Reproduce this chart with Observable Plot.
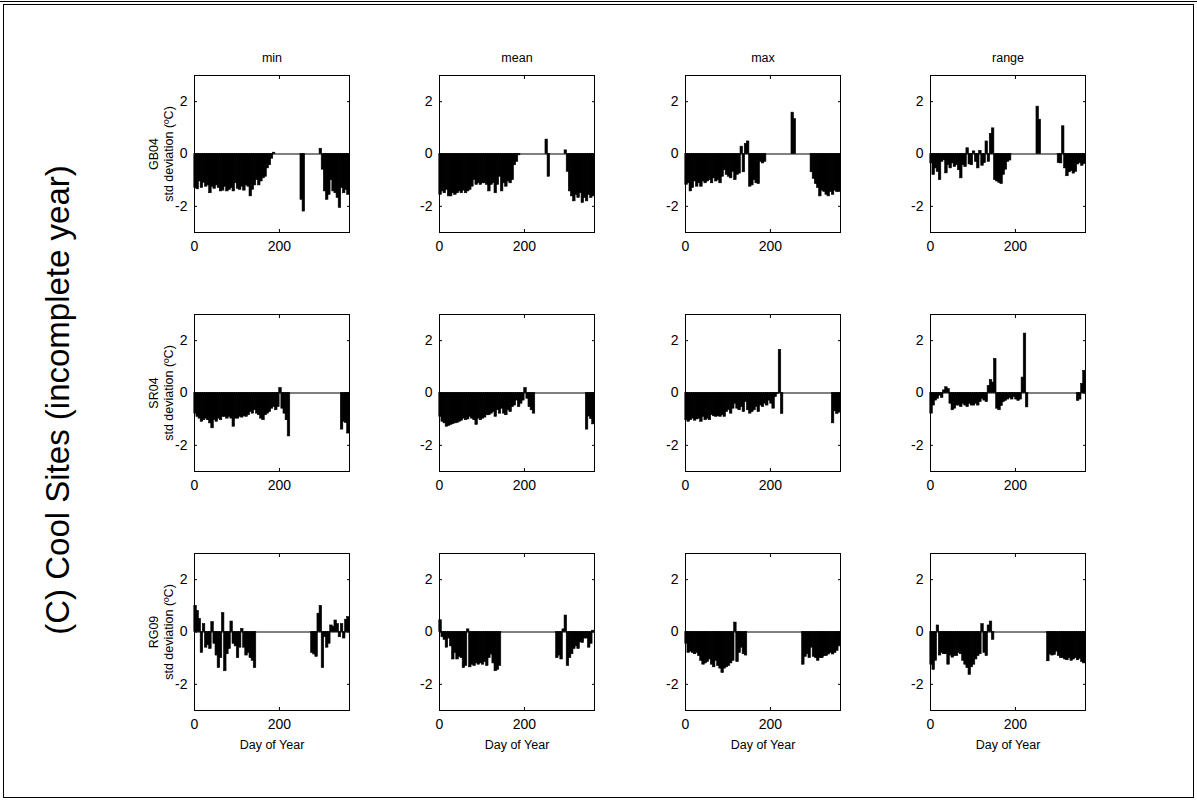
<!DOCTYPE html>
<html>
<head>
<meta charset="utf-8">
<script src="https://cdn.jsdelivr.net/npm/d3@7"></script>
<script src="https://cdn.jsdelivr.net/npm/@observablehq/plot@0.6"></script>
<style>
  body { margin: 0; background: #fff; }
  #fig { position: relative; width: 1197px; height: 800px; overflow: hidden; background: #fff;
         font-family: "Liberation Sans", Arial, Helvetica, sans-serif; color: #000; }
  .edge { position: absolute; background: #000; }
  #side { position: absolute; left: 58px; top: 400px; transform: translate(-50%, -50%) rotate(-90deg);
          white-space: nowrap; font-size: 33px; }
</style>
</head>
<body>
<div id="fig">
  <div class="edge" style="left:0;top:1px;width:1197px;height:1px"></div>
  <div class="edge" style="left:3px;top:4px;width:1191px;height:1px"></div>
  <div class="edge" style="left:3px;top:4px;width:1px;height:794px"></div>
  <div class="edge" style="left:1193px;top:4px;width:1px;height:794px"></div>
  <div class="edge" style="left:3px;top:797px;width:1191px;height:1px"></div>
  <div id="side">(C) Cool Sites (incomplete year)</div>
</div>
<script>
// Daily standardized anomalies, averaged into 5-day bins (bin i covers days 5i..5i+5).
// null = no record for that bin.
const dayStep = 5;
const dayMax = 365;
const sites = ["GB04", "SR04", "RG09"];
const statNames = ["min", "mean", "max", "range"];
const xTicks = [0, 200];
const yTicks = [-2, 0, 2];

const gb04Min = [
  -1.30, -1.35, -1.05, -1.30, -1.10, -1.25, -1.20, -1.50, -1.25, -1.33,
  -1.20, -1.30, -1.43, -1.40, -1.25, -1.43, -1.37, -1.30, -1.43, -1.12,
  -1.33, -1.37, -1.25, -1.40, -1.20, -1.25, -1.62, -1.37, -1.20, -1.00,
  -1.20, -1.05, -0.93, -0.87, -0.55, -0.43, -0.18, 0.05, null, null,
  null, null, null, null, null, null, null, null, null, null,
  -1.75, -2.20, null, null, null, null, null, null, null, 0.20,
  -0.60, -1.43, -1.75, -1.56, -1.00, -1.43, -1.50, -1.68, -2.06, -1.30,
  -1.50, -1.37, -1.56
];
const gb04Mean = [
  -1.56, -1.43, -1.50, -1.37, -1.62, -1.62, -1.50, -1.56, -1.50, -1.43,
  -1.50, -1.40, -1.50, -1.43, -1.37, -1.25, -1.00, -1.18, -1.12, -1.18,
  -1.12, -1.12, -1.18, -1.43, -1.18, -1.12, -1.50, -1.18, -0.87, -1.43,
  -1.12, -1.25, -1.05, -1.12, -1.00, -0.43, -0.30, -0.05, null, null,
  null, null, null, null, null, null, null, null, null, null,
  0.55, -0.87, null, null, null, null, null, null, null, 0.14,
  -0.68, -1.43, -1.62, -1.81, -1.56, -1.68, -1.50, -1.87, -1.68, -1.81,
  -1.56, -1.68, -1.62
];
const gb04Max = [
  -1.18, -1.12, -1.43, -1.30, -1.05, -1.25, -1.12, -1.25, -1.05, -1.12,
  -1.05, -1.00, -1.12, -0.93, -1.05, -1.00, -1.12, -0.87, -0.62, -0.80,
  -0.87, -0.93, -0.68, -1.00, -0.80, -0.75, 0.28, -0.70, 0.39, 0.48,
  -1.25, -1.20, -1.00, -1.12, -1.15, -0.30, -0.36, -0.30, null, null,
  null, null, null, null, null, null, null, null, null, null,
  1.58, 1.33, null, null, null, null, null, null, null, -0.70,
  -0.95, -1.15, -1.30, -1.62, -1.40, -1.45, -1.56, -1.62, -1.45, -1.56,
  -1.40, -1.45, -1.45
];
const gb04Range = [
  -0.36, -0.80, -0.55, -0.68, -1.00, -0.30, -0.24, -0.74, -0.43, -0.55,
  -0.36, -0.50, -0.43, -0.62, -0.93, -0.43, -0.50, 0.22, -0.40, -0.43,
  0.10, -0.30, -0.55, 0.12, -0.45, -0.35, 0.48, -0.30, 0.77, 0.98,
  -1.00, -1.05, -1.10, -1.15, -0.80, -0.60, -0.30, -0.25, null, null,
  null, null, null, null, null, null, null, null, null, null,
  1.81, 1.31, null, null, null, null, null, null, null, null,
  -0.35, -0.36, 1.06, -0.55, -0.85, -0.70, -0.65, -0.75, -0.68, -0.40,
  -0.35, -0.45, -0.38
];

const sr04Min = [
  -0.79, -0.91, -0.98, -1.10, -1.04, -0.98, -1.04, -1.16, -1.35, -1.04,
  -1.10, -0.98, -1.04, -0.91, -0.91, -0.98, -0.91, -0.98, -1.29, -0.98,
  -0.98, -0.91, -0.94, -0.89, -0.91, -0.85, -0.73, -0.79, -0.66, -0.79,
  -0.85, -0.98, -1.04, -0.85, -0.79, -0.73, -0.60, -0.54, -0.66, -0.54,
  0.19, -0.60, -0.79, -1.04, -1.66, null, null, null, null, null,
  null, null, null, null, null, null, null, null, null, null,
  null, null, null, null, null, null, null, null, null, -1.40,
  -1.10, -1.15, -1.55
];
const sr04Mean = [
  -0.91, -1.10, -1.16, -1.29, -1.26, -1.22, -1.19, -1.16, -1.14, -1.10,
  -1.06, -0.98, -1.04, -1.01, -0.91, -0.98, -1.04, -1.22, -0.98, -1.04,
  -0.98, -0.94, -0.85, -0.85, -0.79, -0.73, -0.91, -0.66, -0.79, -0.60,
  -0.79, -0.85, -0.66, -0.73, -0.54, -0.48, -0.29, -0.54, -0.41, -0.29,
  0.19, -0.22, -0.54, -0.66, -0.79, null, null, null, null, null,
  null, null, null, null, null, null, null, null, null, null,
  null, null, null, null, null, null, null, null, null, -1.40,
  -0.90, -1.00, -1.20
];
const sr04Max = [
  -1.04, -1.10, -1.04, -0.98, -1.06, -1.01, -0.98, -1.10, -0.91, -1.04,
  -0.98, -1.04, -0.85, -0.89, -0.91, -0.89, -0.91, -0.85, -0.91, -0.73,
  -0.66, -0.79, -0.60, -0.41, -0.60, -0.66, -0.54, -0.73, -0.35, -0.66,
  -0.79, -0.73, -0.66, -0.54, -0.73, -0.48, -0.54, -0.41, -0.48, -0.29,
  -0.41, -0.60, -0.16, -0.04, 1.65, -0.80, null, null, null, null,
  null, null, null, null, null, null, null, null, null, null,
  null, null, null, null, null, null, null, null, null, -1.16,
  -0.70, -0.80, -0.75
];
const sr04Range = [
  -0.79, -0.48, -0.29, -0.22, -0.10, -0.19, 0.10, 0.22, 0.15, -0.41,
  -0.66, -0.60, -0.48, -0.48, -0.54, -0.41, -0.48, -0.54, -0.41, -0.48,
  -0.48, -0.41, -0.48, -0.35, -0.22, -0.29, -0.35, 0.27, 0.49, 0.40,
  1.30, -0.60, -0.66, -0.50, -0.35, -0.30, -0.25, -0.20, -0.25, -0.15,
  -0.25, -0.30, -0.25, 0.59, 2.27, -0.55, null, null, null, null,
  null, null, null, null, null, null, null, null, null, null,
  null, null, null, null, null, null, null, null, null, -0.30,
  -0.25, 0.35, 0.85
];

const rg09Min = [
  1.00, 0.80, 0.50, -0.80, 0.30, -0.60, -0.50, -0.65, 0.38, -0.45,
  -0.90, -1.38, -1.00, 0.72, -1.50, -0.85, -0.65, 0.40, -0.45, -0.55,
  -1.00, -0.60, 0.12, -0.60, -0.90, -0.80, -1.00, -1.10, -1.38, null,
  null, null, null, null, null, null, null, null, null, null,
  null, null, null, null, null, null, null, null, null, null,
  null, null, null, null, null, -0.80, -0.86, -0.95, 0.70, 1.00,
  -1.38, -0.20, -0.60, -0.45, 0.25, 0.20, 0.44, 0.30, -0.20, 0.30,
  -0.25, 0.47, 0.57
];
const rg09Mean = [
  0.45, -0.20, -0.30, -0.60, -0.25, -0.55, -1.05, -0.80, -1.05, -0.95,
  -1.00, -1.38, -1.30, 0.10, -1.35, -1.25, -1.30, -1.20, -1.25, -1.20,
  -1.25, -1.15, -1.30, -1.00, -0.86, -1.20, -1.50, -1.45, -1.30, null,
  null, null, null, null, null, null, null, null, null, null,
  null, null, null, null, null, null, null, null, null, null,
  null, null, null, null, null, -1.00, -0.90, -1.05, 0.10, 0.63,
  -1.30, -1.00, -0.85, -0.65, -0.55, -0.65, -0.40, -0.42, -0.25, -0.25,
  -0.60, -0.45, 0.05
];
const rg09Max = [
  -0.45, -0.80, -0.75, -0.80, -0.85, -0.80, -0.92, -1.10, -1.25, -1.20,
  -1.15, -1.05, -1.25, -1.35, -1.10, -1.30, -1.40, -1.57, -1.40, -1.35,
  -1.30, -1.20, -1.10, 0.36, -1.15, -0.80, -0.60, -0.85, -0.90, null,
  null, null, null, null, null, null, null, null, null, null,
  null, null, null, null, null, null, null, null, null, null,
  null, null, null, null, null, -1.25, -0.95, -0.85, -1.00, -0.60,
  -0.95, -1.00, -1.10, -1.00, -1.00, -0.92, -0.92, -0.86, -0.80, -0.86,
  -0.80, -0.72, -0.55
];
const rg09Range = [
  -1.25, -1.45, -1.10, 0.25, -0.90, -0.80, -0.85, -0.85, -1.25, -0.90,
  -0.98, -0.92, -0.92, -0.80, -0.85, -1.10, -1.25, -1.38, -1.64, -1.35,
  -1.25, -1.05, -0.92, -0.85, 0.30, -0.80, -0.92, 0.25, 0.40, -0.30,
  null, null, null, null, null, null, null, null, null, null,
  null, null, null, null, null, null, null, null, null, null,
  null, null, null, null, null, -1.12, -0.86, -0.90, -0.88, -0.75,
  -0.92, -1.00, -1.00, -1.05, -1.08, -1.00, -1.10, -1.05, -1.00, -1.08,
  -1.02, -1.15, -1.20
];

const series = {
  GB04: {min: gb04Min, mean: gb04Mean, max: gb04Max, range: gb04Range},
  SR04: {min: sr04Min, mean: sr04Mean, max: sr04Max, range: sr04Range},
  RG09: {min: rg09Min, mean: rg09Mean, max: rg09Max, range: rg09Range}
};

// subplot grid: frame position of each axes box on the page
const colLeft = [194, 439, 685, 930];
const rowTop = [75, 314, 553];
const frameW = 155, frameH = 157;
const mL = 46, mR = 6, mT = 30, mB = 46;
const fontFamily = '"Liberation Sans", Arial, Helvetica, sans-serif';

const fig = document.getElementById("fig");

sites.forEach((site, r) => {
  statNames.forEach((stat, c) => {
    const bars = series[site][stat]
      .map((v, i) => ({d0: i * dayStep, d1: (i + 1) * dayStep, base: 0, v}))
      .filter((b) => b.v != null);

    const marks = [
      // thin black outline closes the anti-aliasing seams between neighbouring bins
      Plot.rect(bars, {x1: "d0", x2: "d1", y1: "base", y2: "v", fill: "black",
                       stroke: "black", strokeWidth: 0.6, insetLeft: -0.2, insetRight: -0.2}),
      Plot.ruleY([0], {stroke: "black", strokeWidth: 1}),
      Plot.frame({stroke: "black", strokeWidth: 1}),
      // tick labels
      Plot.axisY(yTicks, {anchor: "left", tickSize: 0, tickPadding: 7, label: null,
                          tickFormat: (d) => String(d), fontSize: 14}),
      Plot.axisX(xTicks, {anchor: "bottom", tickSize: 0, tickPadding: 9, label: null,
                          tickFormat: (d) => String(d), fontSize: 14}),
      // inward tick marks on all four sides
      Plot.axisY(yTicks, {anchor: "left", tickSize: -3, fill: "none", label: null}),
      Plot.axisY(yTicks, {anchor: "right", tickSize: -3, fill: "none", label: null}),
      Plot.axisX(xTicks, {anchor: "bottom", tickSize: -3, fill: "none", label: null}),
      Plot.axisX(xTicks, {anchor: "top", tickSize: -3, fill: "none", label: null})
    ];

    if (r === 0) {
      marks.push(Plot.text([stat], {text: (d) => d, frameAnchor: "top", dy: -18,
                                    textAnchor: "middle", lineAnchor: "middle", fontSize: 12.5}));
    }
    if (c === 0) {
      marks.push(Plot.text([`${site}\nstd deviation (ºC)`], {
        text: (d) => d, frameAnchor: "left", dx: -34, rotate: -90,
        textAnchor: "middle", lineAnchor: "middle", lineHeight: 1.2, fontSize: 12.5
      }));
    }
    if (r === sites.length - 1) {
      marks.push(Plot.text(["Day of Year"], {text: (d) => d, frameAnchor: "bottom", dy: 34,
                                             textAnchor: "middle", lineAnchor: "middle", fontSize: 12.5}));
    }

    const svg = Plot.plot({
      width: frameW + mL + mR,
      height: frameH + mT + mB,
      marginLeft: mL, marginRight: mR, marginTop: mT, marginBottom: mB,
      x: {domain: [0, dayMax]},
      y: {domain: [-3, 3]},
      style: {background: "transparent", fontFamily, fontSize: "12.5px", color: "black", overflow: "visible"},
      marks
    });
    svg.style.position = "absolute";
    svg.style.left = `${colLeft[c] - mL}px`;
    svg.style.top = `${rowTop[r] - mT}px`;
    svg.style.maxWidth = "none";
    fig.appendChild(svg);
  });
});
</script>
</body>
</html>
